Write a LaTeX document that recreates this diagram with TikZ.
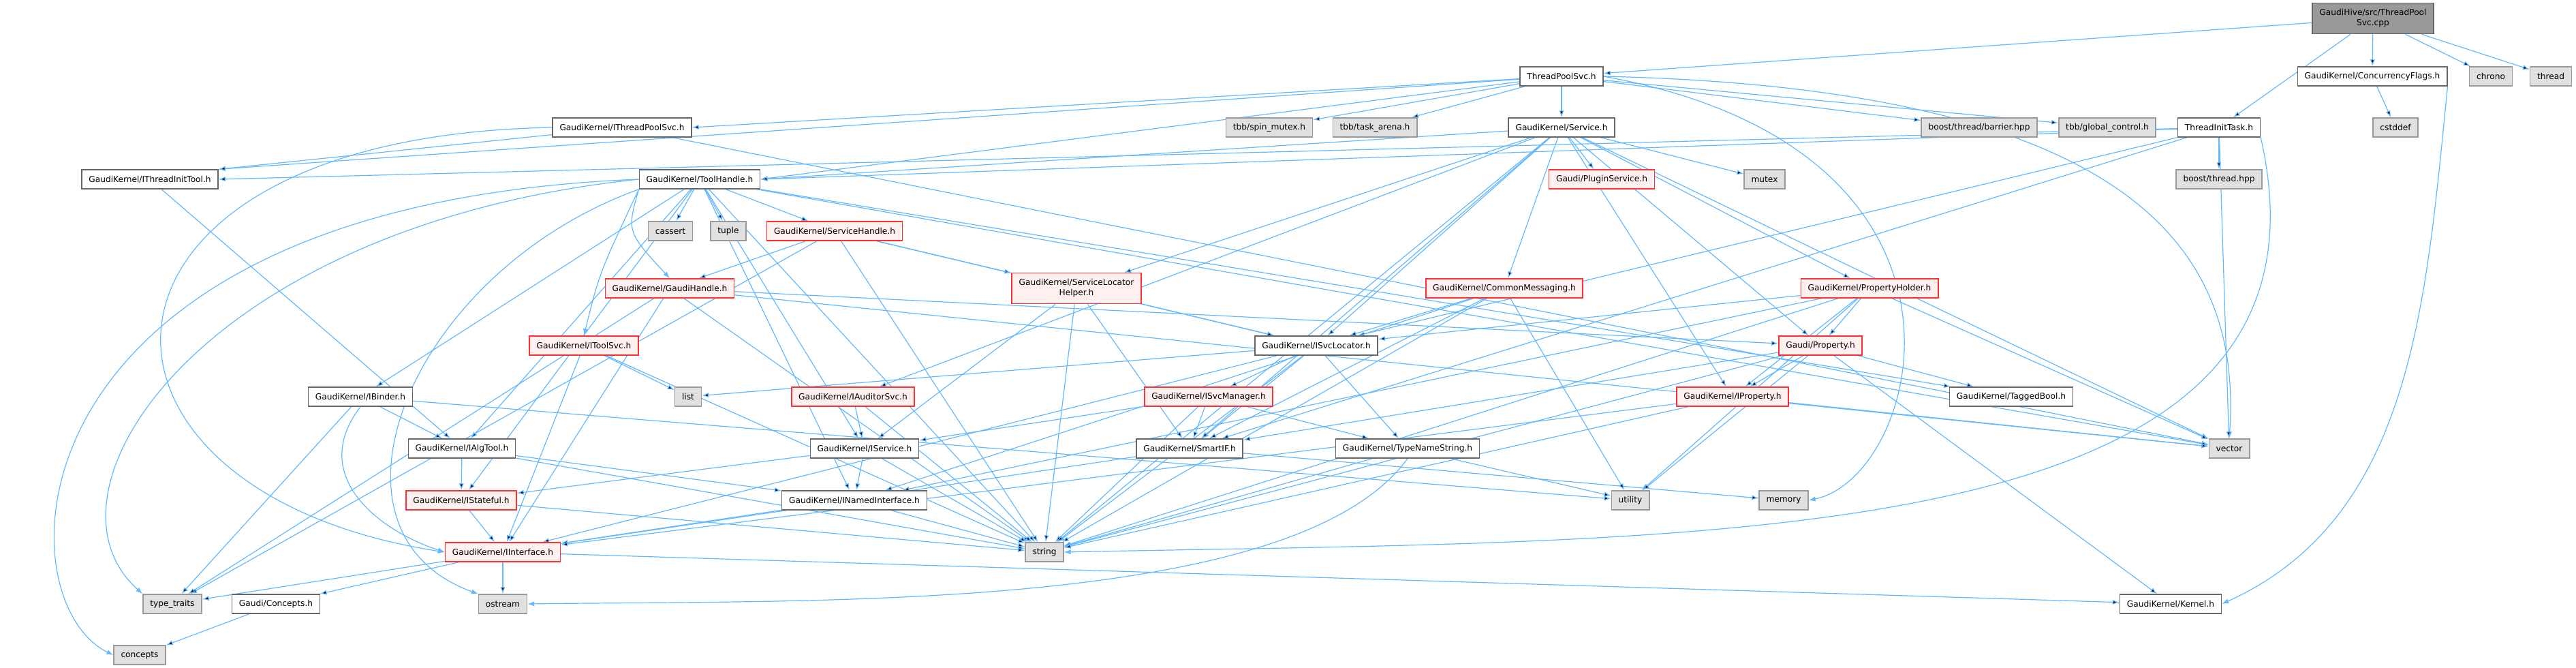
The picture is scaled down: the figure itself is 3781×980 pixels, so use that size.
\documentclass[tikz,border=0pt]{standalone}
\usepackage{fontspec}
\setmainfont{DejaVu Sans}
\usetikzlibrary{arrows.meta}

\definecolor{deplink}{HTML}{63B8FF}
\definecolor{hdrline}{HTML}{666666}
\definecolor{sysfill}{HTML}{E0E0E0}
\definecolor{sysline}{HTML}{999999}
\definecolor{cutfill}{HTML}{FFF0F0}
\definecolor{cutline}{HTML}{FF3030}

\pgfdeclarelayer{links}
\pgfsetlayers{links,main}

\tikzset{
  box/.style={draw, line width=0.75pt, minimum height=14pt, inner xsep=5.2pt, inner ysep=1pt,
    font=\fontsize{6.1}{7.6}\selectfont, align=center},
  hdr/.style={box, draw=hdrline, fill=white},
  sys/.style={box, draw=sysline, fill=sysfill},
  cut/.style={box, draw=cutline, fill=cutfill},
  top/.style={box, draw=hdrline, fill=sysline, minimum height=22.5pt},
  dep/.style={draw=deplink, line width=0.6pt, -{Latex[length=5pt,width=3.6pt]}}
}

\begin{document}
\begin{tikzpicture}[x=0.5pt, y=-0.5pt]
  \useasboundingbox (0,0) rectangle (3781,980);

  % Datei und direkte Includes
  \node[top] (root) at (3483,27) {GaudiHive/src/ThreadPool\\Svc.cpp};
  \node[hdr] (tpsvc) at (2292,112) {ThreadPoolSvc.h};
  \node[hdr] (conc) at (3482,112) {GaudiKernel/ConcurrencyFlags.h};
  \node[sys] (chrono) at (3656,112) {chrono};
  \node[sys] (thread) at (3744,112) {thread};

  % zweite Ebene
  \node[hdr] (itps) at (913,187) {GaudiKernel/IThreadPoolSvc.h};
  \node[sys] (spin) at (1863,187) {tbb/spin\_mutex.h};
  \node[sys] (arena) at (2018,187) {tbb/task\_arena.h};
  \node[hdr] (service) at (2292,187) {GaudiKernel/Service.h};
  \node[sys] (barrier) at (2905,187) {boost/thread/barrier.hpp};
  \node[sys] (glob) at (3093,187) {tbb/global\_control.h};
  \node[hdr] (initask) at (3257,187) {ThreadInitTask.h};
  \node[sys] (cstddef) at (3516,187) {cstddef};

  \node[hdr] (initool) at (220,263) {GaudiKernel/IThreadInitTool.h};
  \node[hdr] (toolh) at (1027,263) {GaudiKernel/ToolHandle.h};
  \node[cut] (plugin) at (2351,263) {Gaudi/PluginService.h};
  \node[sys] (mutex) at (2590,263) {mutex};
  \node[sys] (bthread) at (3257,263) {boost/thread.hpp};

  \node[sys] (cassert) at (984,339) {cassert};
  \node[sys] (tuple) at (1069,339) {tuple};
  \node[cut] (svch) at (1225,339) {GaudiKernel/ServiceHandle.h};

  \node[cut] (ghandle) at (983,423) {GaudiKernel/GaudiHandle.h};
  \node[cut, minimum height=22.5pt] (slh) at (1580,423) {GaudiKernel/ServiceLocator\\Helper.h};
  \node[cut] (cmsg) at (2208,423) {GaudiKernel/CommonMessaging.h};
  \node[cut] (pholder) at (2744,423) {GaudiKernel/PropertyHolder.h};

  % Interfaces
  \node[cut] (itoolsvc) at (857,507) {GaudiKernel/IToolSvc.h};
  \node[hdr] (svcloc) at (1932,507) {GaudiKernel/ISvcLocator.h};
  \node[cut] (prop) at (2672,507) {Gaudi/Property.h};

  \node[hdr] (ibinder) at (529,582) {GaudiKernel/IBinder.h};
  \node[sys] (list) at (1010,582) {list};
  \node[cut] (iaud) at (1252,582) {GaudiKernel/IAuditorSvc.h};
  \node[cut] (isvcman) at (1774,582) {GaudiKernel/ISvcManager.h};
  \node[cut] (iprop) at (2543,582) {GaudiKernel/IProperty.h};
  \node[hdr] (tagged) at (2952,582) {GaudiKernel/TaggedBool.h};

  \node[hdr] (ialgtool) at (678,658) {GaudiKernel/IAlgTool.h};
  \node[hdr] (iservice) at (1269,658) {GaudiKernel/IService.h};
  \node[hdr] (smartif) at (1746,658) {GaudiKernel/SmartIF.h};
  \node[hdr] (tns) at (2066,658) {GaudiKernel/TypeNameString.h};
  \node[sys] (vector) at (3272,658) {vector};

  \node[cut] (istate) at (677,734) {GaudiKernel/IStateful.h};
  \node[hdr] (inamed) at (1254,734) {GaudiKernel/INamedInterface.h};
  \node[sys] (utility) at (2393,734) {utility};
  \node[sys] (memory) at (2618,734) {memory};

  \node[cut] (iiface) at (738,810) {GaudiKernel/IInterface.h};
  \node[sys] (string) at (1533,810) {string};

  \node[sys] (typetr) at (253,886) {type\_traits};
  \node[hdr] (gconc) at (405,886) {Gaudi/Concepts.h};
  \node[sys] (ostream) at (738,886) {ostream};
  \node[hdr] (kernel) at (3186,886) {GaudiKernel/Kernel.h};

  \node[sys] (concepts) at (205,961) {concepts};

  % Abhaengigkeiten (unter den Kaesten)
  \begin{pgfonlayer}{links}
  \draw[dep] (root) edge (tpsvc) edge (conc) edge (initask) edge (chrono) edge (thread);
  \draw[dep] (tpsvc) edge (itps.east) edge (spin) edge (arena) edge (service)
    edge (initool.north east) edge (toolh.east) edge (barrier) edge (glob);
  \draw[dep] (tpsvc.east) .. controls (3150,130) and (3290,380) .. (vector.north);
  \draw[dep] (tpsvc.east) .. controls (2950,220) and (2820,700) .. (memory.east);
  \draw[dep] (conc) edge (cstddef);
  \draw[dep] (conc.south east) .. controls (3560,450) and (3540,760) .. (kernel.east);
  \draw[dep] (initask) edge (initool.east) edge (toolh.east) edge (smartif) edge (svcloc)
    edge (bthread) edge (vector);
  \draw[dep] (initask.south east) .. controls (3460,820) and (2500,790) .. (string.east);
  \draw[dep] (itps.west) .. controls (80,200) and (70,720) .. (iiface.west);
  \draw[dep] (itps) edge (initool.north east) edge (vector);
  \draw[dep] (initool) edge (ialgtool);
  \draw[dep] (toolh.west) .. controls (0,300) and (0,880) .. (concepts.west);
  \draw[dep] (toolh.west) .. controls (300,330) and (40,720) .. (typetr.north west);
  \draw[dep] (toolh.south west) .. controls (600,400) and (450,780) .. (ostream.north west);
  \draw[dep] (toolh.south west) .. controls (920,340) .. (ghandle.north);
  \draw[dep] (toolh.south west) .. controls (880,400) .. (itoolsvc.north);
  \draw[dep] (toolh) edge (ialgtool) edge (ibinder) edge (inamed)
    edge (svch) edge (tagged) edge (cassert) edge (tuple)
    edge (string) edge (vector) edge (istate) edge (iservice);
  \draw[dep] (svch) edge (ghandle) edge (slh) edge (svcloc) edge (string) edge (typetr);
  \draw[dep] (ghandle) edge (prop) edge (vector) edge (string) edge (typetr) edge (iiface);
  \draw[dep] (itoolsvc) edge (iiface) edge (list) edge (string);
  \draw[dep] (ibinder) edge (ialgtool) edge (typetr) edge (utility);
  \draw[dep] (ibinder.south) .. controls (450,700) and (560,780) .. (iiface.west);
  \draw[dep] (ialgtool) edge (istate) edge (inamed) edge (string);
  \draw[dep] (istate) edge (iiface) edge (string);
  \draw[dep] (inamed) edge (iiface) edge (string);
  \draw[dep] (iiface) edge (typetr) edge (gconc) edge (ostream) edge (kernel);
  \draw[dep] (gconc) edge (concepts);
  \draw[dep] (svcloc) edge (list) edge (iiface) edge (isvcman) edge (smartif)
    edge (tns) edge (string);
  \draw[dep] (isvcman) edge (iservice) edge (smartif) edge (tns) edge (string);
  \draw[dep] (iaud) edge (iservice) edge (string);
  \draw[dep] (iservice) edge (inamed) edge (istate) edge (string);
  \draw[dep] (smartif) edge (iiface) edge (memory);
  \draw[dep] (tns) edge (string) edge (utility);
  \draw[dep] (tns.south) .. controls (1900,900) and (1200,880) .. (ostream.east);
  \draw[dep] (slh) edge (svcloc) edge (iservice) edge (smartif) edge (string);
  \draw[dep] (cmsg) edge (svcloc) edge (smartif) edge (string) edge (utility) edge (inamed);
  \draw[dep] (service) edge (plugin) edge (cmsg) edge (slh) edge (svcloc) edge (iaud)
    edge (iprop) edge (pholder) edge (toolh.east) edge (smartif) edge (prop) edge (mutex)
    edge (vector) edge (string);
  \draw[dep] (pholder) edge (prop) edge (iprop) edge (svcloc) edge (inamed)
    edge (string) edge (utility) edge (vector);
  \draw[dep] (prop) edge (iprop) edge (smartif) edge (tagged) edge (kernel)
    edge (string) edge (utility);
  \draw[dep] (iprop) edge (iiface) edge (string) edge (vector);
  \end{pgfonlayer}
\end{tikzpicture}
\end{document}
